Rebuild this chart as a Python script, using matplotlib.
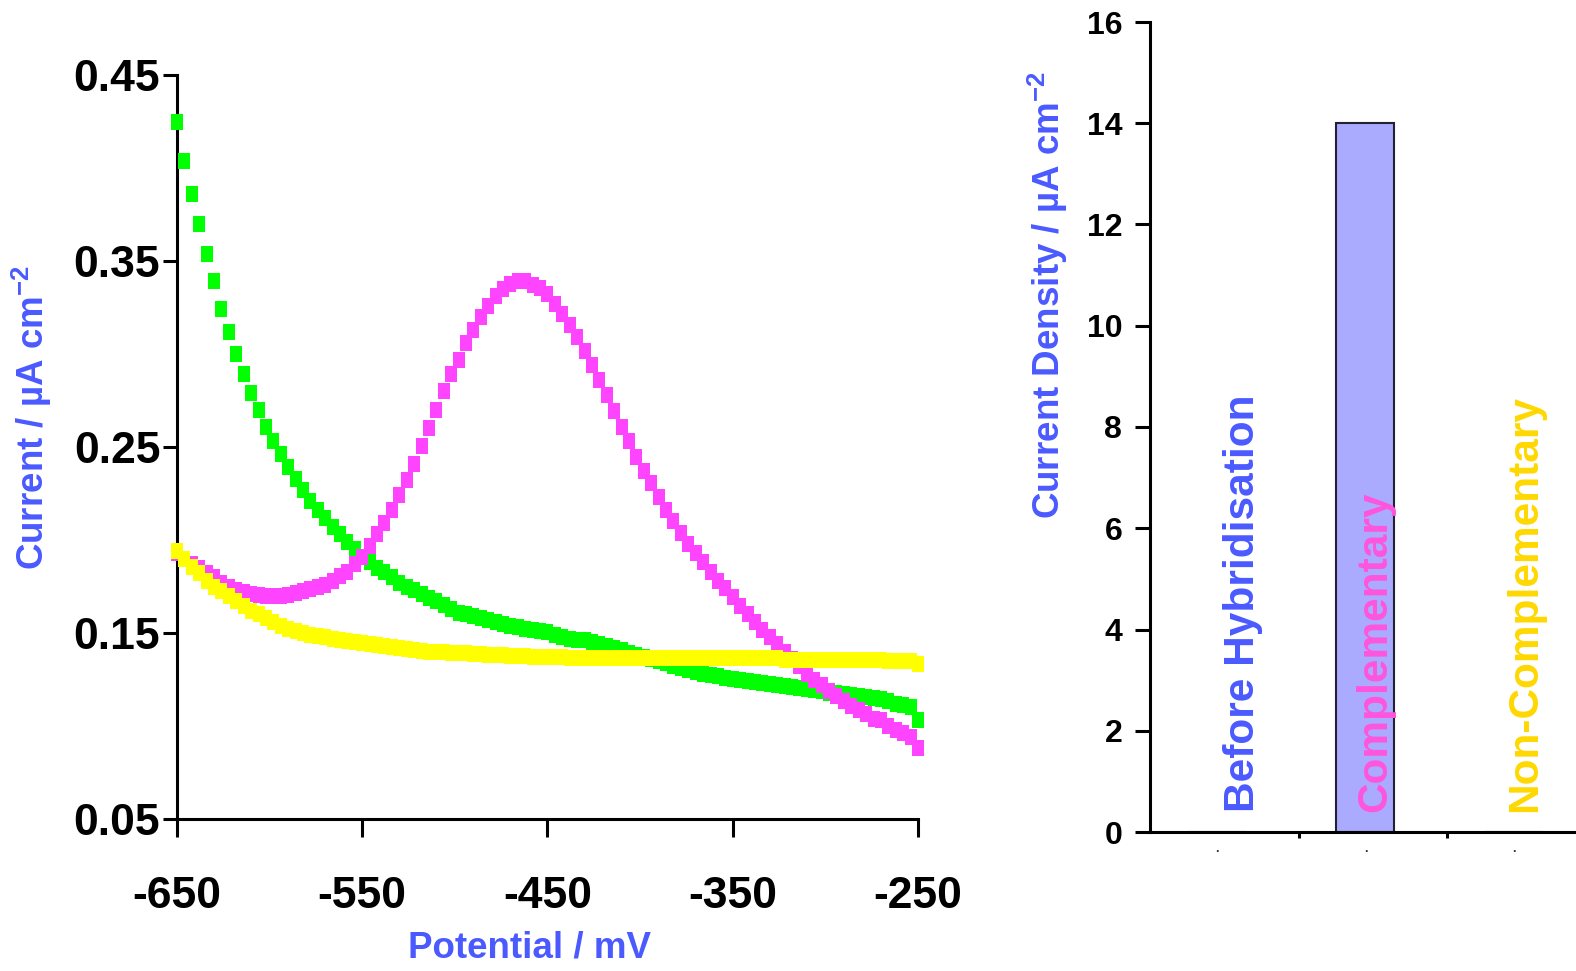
import numpy as np
import matplotlib
matplotlib.use("Agg")
import matplotlib.pyplot as plt

plt.rcParams['font.family'] = 'Liberation Sans'
plt.rcParams['font.weight'] = 'bold'
plt.rcParams['axes.unicode_minus'] = False
plt.rcParams['mathtext.fontset'] = 'custom'
plt.rcParams['mathtext.rm'] = 'Liberation Sans:bold'
plt.rcParams['mathtext.bf'] = 'Liberation Sans:bold'
plt.rcParams['mathtext.it'] = 'Liberation Sans:bold'

# DPV sweep, 4 mV step
potential = np.arange(-650, -246, 4)

before_hyb = [0.425, 0.404, 0.386, 0.370, 0.354, 0.339, 0.324, 0.312, 0.300, 0.289,
              0.279, 0.270, 0.261, 0.253, 0.246, 0.239, 0.233, 0.227, 0.221, 0.216,
              0.212, 0.207, 0.203, 0.199, 0.195, 0.191, 0.188, 0.185, 0.183, 0.180,
              0.177, 0.175, 0.173, 0.171, 0.169, 0.167, 0.165, 0.163, 0.161, 0.160,
              0.159, 0.158, 0.157, 0.156, 0.155, 0.154, 0.153, 0.152, 0.1515, 0.151,
              0.1505, 0.149, 0.148, 0.147, 0.1465, 0.146, 0.145, 0.144, 0.143, 0.142,
              0.141, 0.1395, 0.138, 0.137, 0.136, 0.135, 0.134, 0.132, 0.131, 0.130,
              0.129, 0.128, 0.1275, 0.127, 0.126, 0.1255, 0.125, 0.124, 0.1235, 0.123,
              0.1225, 0.122, 0.1215, 0.121, 0.1205, 0.120, 0.1195, 0.119, 0.118, 0.1175,
              0.117, 0.1165, 0.116, 0.1155, 0.115, 0.1145, 0.1135, 0.112, 0.1115, 0.110,
              0.103]

complementary = [0.193, 0.190, 0.187, 0.185, 0.182, 0.180, 0.177, 0.175, 0.173, 0.172,
                 0.171, 0.1705, 0.170, 0.170, 0.170, 0.1705, 0.1715, 0.1725, 0.1735, 0.175,
                 0.176, 0.178, 0.1805, 0.183, 0.187, 0.191, 0.197, 0.203, 0.209, 0.216,
                 0.224, 0.232, 0.241, 0.2505, 0.260, 0.270, 0.280, 0.289, 0.297, 0.306,
                 0.313, 0.320, 0.326, 0.331, 0.335, 0.3375, 0.339, 0.339, 0.337, 0.3355,
                 0.332, 0.327, 0.3215, 0.3155, 0.309, 0.3015, 0.294, 0.286, 0.278, 0.2695,
                 0.261, 0.253, 0.2445, 0.237, 0.2305, 0.223, 0.216, 0.210, 0.204, 0.198,
                 0.193, 0.188, 0.183, 0.178, 0.174, 0.1695, 0.1645, 0.160, 0.156, 0.1515,
                 0.148, 0.144, 0.140, 0.136, 0.132, 0.128, 0.125, 0.122, 0.119, 0.116,
                 0.1135, 0.111, 0.1085, 0.1065, 0.104, 0.103, 0.100, 0.098, 0.096, 0.094,
                 0.088]

non_complementary = [0.194, 0.190, 0.1855, 0.182, 0.178, 0.175, 0.1725, 0.170, 0.167, 0.1645,
                     0.162, 0.160, 0.158, 0.156, 0.154, 0.152, 0.151, 0.150, 0.149, 0.1485,
                     0.148, 0.147, 0.146, 0.1455, 0.145, 0.1445, 0.144, 0.1435, 0.143, 0.1425,
                     0.142, 0.1415, 0.141, 0.1405, 0.140, 0.140, 0.1398, 0.1395, 0.139, 0.139,
                     0.1388, 0.1385, 0.138, 0.138, 0.138, 0.1378, 0.1375, 0.1375, 0.1372, 0.137,
                     0.137, 0.137, 0.137, 0.1368, 0.1368, 0.1367, 0.1367, 0.1367, 0.1367, 0.1367,
                     0.1367, 0.1367, 0.1367, 0.1367, 0.1367, 0.1367, 0.1367, 0.1367, 0.1367, 0.1367,
                     0.1367, 0.1367, 0.1367, 0.1367, 0.1367, 0.1367, 0.1367, 0.1367, 0.1367, 0.1367,
                     0.1367, 0.1367, 0.1355, 0.1355, 0.1355, 0.1355, 0.1355, 0.1355, 0.1355, 0.1355,
                     0.1355, 0.1355, 0.1355, 0.1355, 0.1355, 0.1355, 0.135, 0.135, 0.135, 0.135,
                     0.1335]

# bar chart
categories = ['Before Hybridisation', 'Complementary', 'Non-Complementary']
current_density = [0, 14, 0]
cat_colors = ['#4a5aff', '#ff55dd', '#ffd700']

blue = '#4a5aff'
W, H = 1576, 971

fig = plt.figure(figsize=(W / 100, H / 100), dpi=100)

# ---- left: DPV curves
ax1 = fig.add_axes([177 / W, 1 - 819 / H, (918 - 177) / W, (819 - 75) / H])
rect = [(-0.75, -1), (0.75, -1), (0.75, 1), (-0.75, 1), (-0.75, -1)]
for ys, c in [(before_hyb, '#00ff00'), (complementary, '#ff44ff'), (non_complementary, '#ffff00')]:
    ax1.plot(potential, ys, linestyle='none', marker=rect, markersize=11.5,
             markerfacecolor=c, markeredgewidth=0, clip_on=False, zorder=5)

ax1.set_xlim(-650, -250)
ax1.set_ylim(0.05, 0.45)
ax1.set_xticks([-650, -550, -450, -350, -250])
ax1.set_yticks([0.05, 0.15, 0.25, 0.35, 0.45])
ax1.set_yticklabels(['0.05', '0.15', '0.25', '0.35', '0.45'])
for s in ['top', 'right']:
    ax1.spines[s].set_visible(False)
for s in ['left', 'bottom']:
    ax1.spines[s].set_linewidth(2.2)
ax1.tick_params(axis='x', length=13, width=2.2, pad=28, labelsize=32)
ax1.tick_params(axis='y', length=10, width=2.2, pad=2, labelsize=32)

fig.text(530 / W, 1 - 948 / H, 'Potential / mV', color=blue, fontsize=26.5,
         fontweight='bold', ha='center', va='center')
fig.text(32 / W, 1 - 417 / H, 'Current / µA cm$^{-2}$', color=blue, fontsize=26.5,
         fontweight='bold', rotation=90, ha='center', va='center')

# ---- right: peak current density
ax2 = fig.add_axes([1150 / W, 1 - 832 / H, (W - 1150) / W, (832 - 22) / H])
x = np.arange(len(categories))
ax2.bar(x, current_density, width=0.39, color='#aaaaff', edgecolor='#222233',
        linewidth=1.5, zorder=2)
ax2.set_xlim(-0.451, 2.418)
ax2.set_ylim(0, 16)
ax2.set_yticks(range(0, 17, 2))
ax2.set_xticks(x)
ax2.set_xticklabels(['.', '.', '.'], fontsize=9, color='#333333')
ax2.set_xticks([0.55, 1.55], minor=True)
ax2.tick_params(axis='x', which='major', length=0, pad=8)
ax2.tick_params(axis='x', which='minor', length=4, width=2.2)
ax2.tick_params(axis='y', length=11, width=2.2, pad=9, labelsize=23)
for s in ['top', 'right']:
    ax2.spines[s].set_visible(False)
for s in ['left', 'bottom']:
    ax2.spines[s].set_linewidth(2.2)

text_x = [0.175, 1.064, 2.074]
for tx, name, c in zip(text_x, categories, cat_colors):
    ax2.text(tx, 0.4, name, rotation=90, color=c, fontsize=30.5, fontweight='bold',
             ha='center', va='bottom', zorder=3)

fig.text(1048 / W, 1 - 295 / H, 'Current Density / µA cm$^{-2}$', color=blue,
         fontsize=26.5, fontweight='bold', rotation=90, ha='center', va='center')

fig.savefig('out.png', dpi=100)
